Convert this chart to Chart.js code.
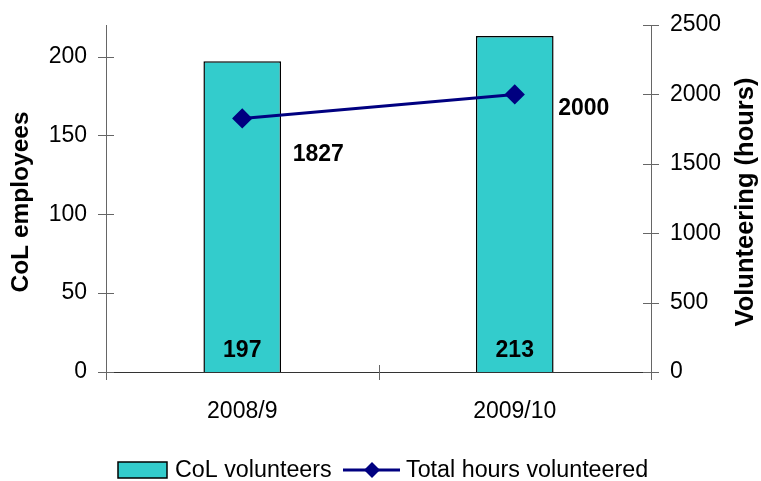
<!DOCTYPE html>
<html>
<head>
<meta charset="utf-8">
<script src="https://cdn.jsdelivr.net/npm/chart.js@4"></script>
<style>
  html, body { margin: 0; padding: 0; background: #fff; }
  #wrap { width: 761px; height: 481px; }
</style>
</head>
<body>
<div id="wrap"><canvas id="volChart" width="761" height="481"></canvas></div>
<script>
const years = ['2008/9', '2009/10'];
const volunteers = [197, 213];
const hours = [1827, 2000];
const leftTicks = [0, 50, 100, 150, 200];
const rightTicks = [0, 500, 1000, 1500, 2000, 2500];

const FONT = '"Liberation Sans", Arial, sans-serif';
const TEAL = '#33CCCC';
const NAVY = '#000080';

/* crossing tick marks, value labels, axis titles and legend */
const decorPlugin = {
    id: 'decor',
    afterDraw(chart) {
        const c = chart.ctx;
        const area = chart.chartArea;
        const sx = chart.scales.x, sy = chart.scales.y, sy1 = chart.scales.y1;
        c.save();
        c.strokeStyle = '#666';
        c.lineWidth = 1;
        c.beginPath();
        sy.ticks.forEach(t => {
            const y = Math.round(sy.getPixelForValue(t.value)) + 0.5;
            c.moveTo(area.left - 8, y); c.lineTo(area.left + 8, y);
        });
        sy1.ticks.forEach(t => {
            const y = Math.round(sy1.getPixelForValue(t.value)) + 0.5;
            c.moveTo(area.right - 8, y); c.lineTo(area.right + 8, y);
        });
        const mid = (sx.getPixelForValue(0) + sx.getPixelForValue(1)) / 2;
        [area.left, mid, area.right].forEach(x => {
            x = Math.round(x) + 0.5;
            c.moveTo(x, area.bottom - 7); c.lineTo(x, area.bottom + 8);
        });
        c.stroke();

        // data labels
        c.fillStyle = '#000';
        c.font = 'bold 23px ' + FONT;
        c.textAlign = 'center';
        c.textBaseline = 'middle';
        chart.getDatasetMeta(0).data.forEach((bar, i) => {
            c.fillText(String(volunteers[i]), bar.x, area.bottom - 21);
        });
        const lineOffsets = [[76, 36], [69, 14]];
        chart.getDatasetMeta(1).data.forEach((pt, i) => {
            c.fillText(String(hours[i]), pt.x + lineOffsets[i][0], pt.y + lineOffsets[i][1]);
        });

        // axis titles, both reading upwards
        const titleY = 202;
        c.save();
        c.translate(21, titleY);
        c.rotate(-Math.PI / 2);
        c.font = 'bold 24.5px ' + FONT;
        c.fillText('CoL employees', 0, 0);
        c.restore();
        c.save();
        c.translate(746, titleY);
        c.rotate(-Math.PI / 2);
        c.font = 'bold 25.5px ' + FONT;
        c.fillText('Volunteering (hours)', 0, 0);
        c.restore();

        // legend
        const ly = 470;
        c.fillStyle = TEAL;
        c.fillRect(118, ly - 8, 49, 16);
        c.strokeStyle = '#000';
        c.lineWidth = 1.5;
        c.strokeRect(118, ly - 8, 49, 16);
        c.font = '23.3px ' + FONT;
        c.textAlign = 'left';
        c.fillStyle = '#000';
        c.fillText('CoL volunteers', 175, ly + 1);
        c.strokeStyle = NAVY;
        c.lineWidth = 3;
        c.beginPath(); c.moveTo(343, ly); c.lineTo(400, ly); c.stroke();
        c.fillStyle = NAVY;
        c.beginPath();
        c.moveTo(372, ly - 8); c.lineTo(380, ly); c.lineTo(372, ly + 8); c.lineTo(364, ly);
        c.closePath(); c.fill();
        c.fillStyle = '#000';
        c.fillText('Total hours volunteered', 406, ly + 1);
        c.restore();
    }
};

new Chart(document.getElementById('volChart'), {
    data: {
        labels: years,
        datasets: [{
            type: 'bar',
            label: 'CoL volunteers',
            data: volunteers,
            backgroundColor: TEAL,
            borderColor: '#000',
            borderWidth: 1.5,
            categoryPercentage: 1,
            barPercentage: 0.285,
            yAxisID: 'y',
            order: 2
        }, {
            type: 'line',
            label: 'Total hours volunteered',
            data: hours,
            borderColor: NAVY,
            backgroundColor: NAVY,
            borderWidth: 3,
            pointStyle: 'rectRot',
            pointRadius: 8,
            pointHoverRadius: 8,
            yAxisID: 'y1',
            order: 1
        }]
    },
    options: {
        responsive: false,
        animation: false,
        layout: { padding: { top: 25, left: 0, right: 0, bottom: 0 } },
        plugins: {
            legend: { display: false },
            tooltip: { enabled: false }
        },
        scales: {
            x: {
                offset: true,
                grid: { display: false, drawTicks: false },
                border: { display: true, color: '#333', width: 1 },
                ticks: { color: '#000', font: { family: FONT, size: 23 }, padding: 26 },
                afterFit: s => { s.height = 109; }
            },
            y: {
                position: 'left',
                min: 0,
                max: 220,
                afterBuildTicks: s => { s.ticks = leftTicks.map(v => ({ value: v })); },
                grid: { display: false, drawTicks: false },
                border: { display: true, color: '#666', width: 1 },
                ticks: { color: '#000', font: { family: FONT, size: 23 }, padding: 19 },
                afterFit: s => { s.width = 106; s.paddingTop = 0; s.paddingBottom = 0; }
            },
            y1: {
                position: 'right',
                min: 0,
                max: 2500,
                afterBuildTicks: s => { s.ticks = rightTicks.map(v => ({ value: v })); },
                grid: { display: false, drawTicks: false },
                border: { display: true, color: '#666', width: 1 },
                ticks: {
                    color: '#000',
                    font: { family: FONT, size: 23 },
                    padding: 19,
                    callback: v => String(v)
                },
                afterFit: s => { s.width = 110; s.paddingTop = 0; s.paddingBottom = 0; }
            }
        }
    },
    plugins: [decorPlugin]
});
</script>
</body>
</html>
